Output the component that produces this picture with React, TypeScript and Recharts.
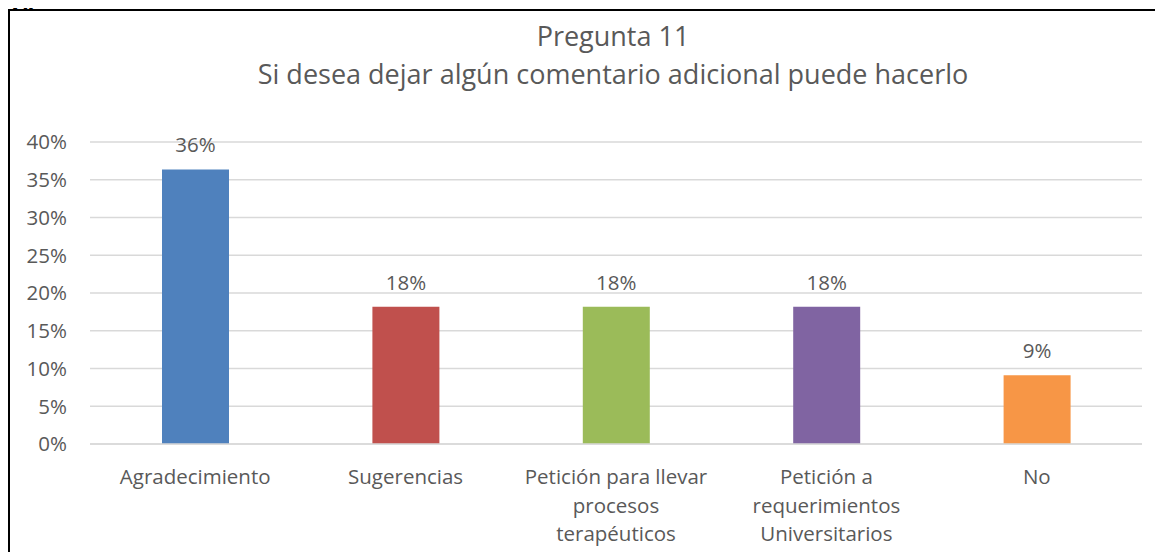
import React from "react";
import { BarChart, Bar, XAxis, YAxis, CartesianGrid, Cell, LabelList } from "recharts";

const titleLines = ["Pregunta 11", "Si desea dejar algún comentario adicional puede hacerlo"];
const categories = [
  "Agradecimiento",
  "Sugerencias",
  "Petición para llevar\nprocesos\nterapéuticos",
  "Petición a\nrequerimientos\nUniversitarios",
  "No",
];
const values = [0.3636, 0.1818, 0.1818, 0.1818, 0.0909];
const colors = ["#4F81BD", "#C0504D", "#9BBB59", "#8064A2", "#F79646"];
const yTicks = [0, 0.05, 0.1, 0.15, 0.2, 0.25, 0.3, 0.35, 0.4];

const data = categories.map((c, i) => ({ name: c, value: values[i] }));

const FONT = "'Open Sans', sans-serif";
const GREY = "#595959";
const FS = 20.5;

const pct = (v: number) => `${Math.round(v * 100)}%`;

const XTick = (props: any) => {
  const { x, y, payload } = props;
  const lines = String(payload.value).split("\n");
  return (
    <text x={x} y={y} textAnchor="middle" fill={GREY} fontSize={FS} fontFamily={FONT}>
      {lines.map((l: string, i: number) => (
        <tspan key={i} x={x} y={y + 32 + i * 28.5} dominantBaseline="central">
          {l}
        </tspan>
      ))}
    </text>
  );
};

export default function App() {
  return (
    <div style={{ position: "relative", width: 1147, height: 544 }}>
      <style>{`html,body{overflow:hidden}`}</style>
      <div
        style={{
          position: "absolute",
          left: 0,
          top: 1,
          width: 1145,
          height: 560,
          borderTop: "2px solid #000",
          borderLeft: "2px solid #000",
          background: "#fff",
        }}
      >
        <div
          style={{
            position: "absolute",
            left: 603,
            top: 6,
            transform: "translateX(-50%)",
            whiteSpace: "nowrap",
            textAlign: "center",
            fontFamily: FONT,
            fontSize: 27,
            lineHeight: "38px",
            color: GREY,
          }}
        >
          {titleLines.map((t, i) => (
            <div key={i}>{t}</div>
          ))}
        </div>
        <div style={{ position: "absolute", left: 0, top: 0 }}>
          <BarChart
            width={1145}
            height={541}
            data={data}
            margin={{ top: 131, right: 13, bottom: 8, left: 0 }}
            barCategoryGap={0}
          >
            <CartesianGrid vertical={false} stroke="#d9d9d9" strokeWidth={1.5} />
            <XAxis
              dataKey="name"
              interval={0}
              height={100}
              tickLine={false}
              tickSize={0}
              tickMargin={0}
              axisLine={{ stroke: "#d9d9d9", strokeWidth: 1.5 }}
              tick={<XTick />}
            />
            <YAxis
              width={80}
              domain={[0, 0.4]}
              ticks={yTicks}
              tickFormatter={pct}
              axisLine={false}
              tickLine={false}
              tickSize={0}
              tickMargin={23}
              tick={{ fill: GREY, fontSize: FS, fontFamily: FONT }}
            />
            <Bar dataKey="value" barSize={67} isAnimationActive={false}>
              {data.map((d, i) => (
                <Cell key={i} fill={colors[i]} />
              ))}
              <LabelList
                dataKey="value"
                position="top"
                offset={17}
                formatter={(v: any) => pct(Number(v))}
                fill={GREY}
                fontSize={FS}
                fontFamily={FONT}
              />
            </Bar>
          </BarChart>
        </div>
      </div>
      <div
        style={{
          position: "absolute",
          left: 0,
          top: -19,
          fontFamily: "'Liberation Serif', serif",
          fontWeight: "bold",
          fontSize: 27,
          lineHeight: "27px",
          color: "#000",
          zIndex: 5,
        }}
      >
        10
      </div>
    </div>
  );
}
